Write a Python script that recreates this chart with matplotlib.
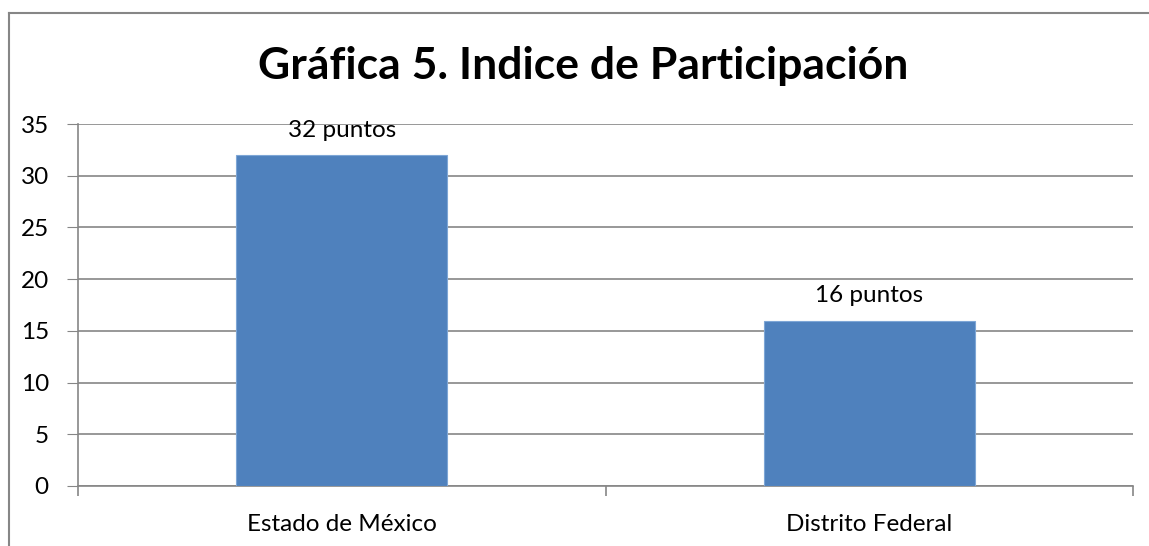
import matplotlib.pyplot as plt
from matplotlib.lines import Line2D

categories = ["Estado de México", "Distrito Federal"]
values = [32, 16]
labels = ["32 puntos", "16 puntos"]
y_ticks = [0, 5, 10, 15, 20, 25, 30, 35]

plt.rcParams['font.family'] = ['Lato', 'DejaVu Sans']

grey = "#868686"
fig = plt.figure(figsize=(11.49, 5.46), dpi=100)
ax = fig.add_axes([78 / 1149, 60 / 546, 1055 / 1149, 362 / 546])

x = list(range(len(categories)))
ax.bar(x, values, width=0.4, color="#4F81BD", edgecolor="#7EA6D6", linewidth=0.8, zorder=3)
for xi, v, lab in zip(x, values, labels):
    ax.text(xi, v + 2.4, lab, ha="center", va="center", fontsize=17.5, color="black")

ax.set_xlim(-0.5, 1.5)
ax.set_ylim(0, 35)
ax.set_yticks(y_ticks)
ax.tick_params(axis="y", length=8, color=grey, labelsize=17.5, pad=13)
ax.grid(axis="y", color=grey, linewidth=1.2, zorder=0)

# category boundaries as major ticks, names as minor ticks
ax.set_xticks([-0.5, 0.5, 1.5])
ax.set_xticklabels([])
ax.set_xticks(x, minor=True)
ax.set_xticklabels(categories, minor=True)
ax.tick_params(axis="x", which="major", length=7, color=grey, width=1.2)
ax.tick_params(axis="x", which="minor", length=0, labelsize=17.5, pad=20)

for s in ["top", "right"]:
    ax.spines[s].set_visible(False)
for s in ["left", "bottom"]:
    ax.spines[s].set_color(grey)
    ax.spines[s].set_linewidth(1.2)

fig.text(583 / 1149, 1 - 66 / 546, "Gráfica 5. Indice de Participación",
         ha="center", va="center", fontsize=32, fontweight="bold")

# chart border (runs off the right and bottom edges)
fig.add_artist(Line2D([9 / 1149, 9 / 1149], [0, 1 - 13 / 546], color=grey, lw=1.5))
fig.add_artist(Line2D([9 / 1149, 1], [1 - 13 / 546, 1 - 13 / 546], color=grey, lw=1.5))

fig.savefig("out.png", dpi=100)
